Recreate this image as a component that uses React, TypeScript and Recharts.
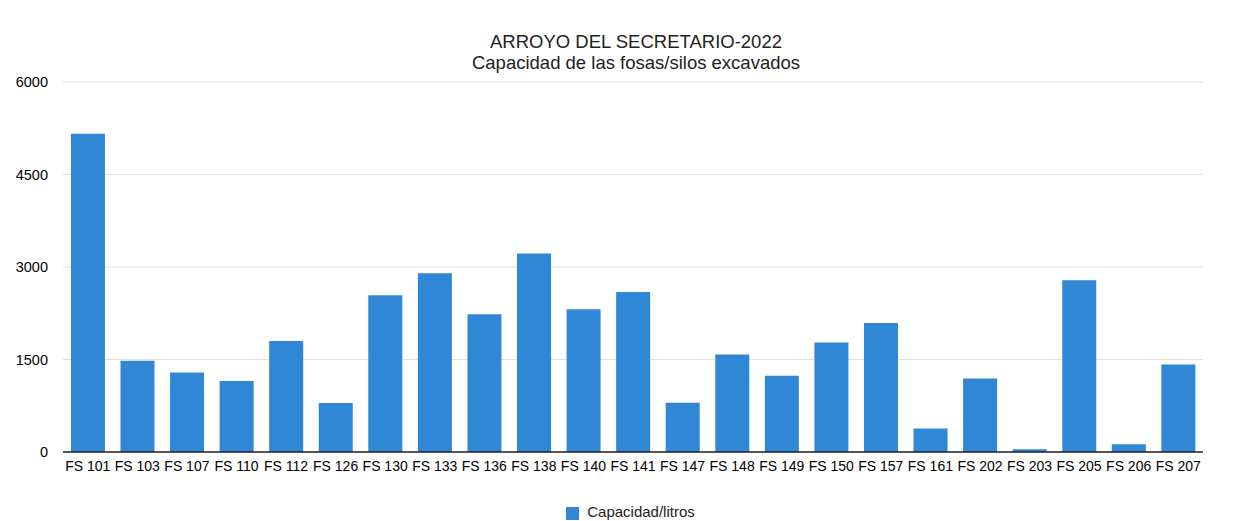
import { Bar, BarChart, CartesianGrid, Legend, XAxis, YAxis } from "recharts"

const fosas = [
  "FS 101", "FS 103", "FS 107", "FS 110", "FS 112", "FS 126", "FS 130", "FS 133",
  "FS 136", "FS 138", "FS 140", "FS 141", "FS 147", "FS 148", "FS 149", "FS 150",
  "FS 157", "FS 161", "FS 202", "FS 203", "FS 205", "FS 206", "FS 207",
]

const capacidad = [
  5160, 1480, 1290, 1150, 1800, 795, 2540, 2900,
  2235, 3220, 2315, 2595, 800, 1580, 1235, 1775,
  2090, 380, 1190, 45, 2785, 125, 1420,
]

const yTicks = [0, 1500, 3000, 4500, 6000]

const data = fosas.map((name, i) => ({ name, "Capacidad/litros": capacidad[i] }))

const font = "'Liberation Sans', Arial, Helvetica, sans-serif"

export default function App() {
  return (
    <div style={{ position: "absolute", left: 0, top: 0, width: 1233, height: 521, background: "#fff", fontFamily: font }}>
      <div style={{ position: "absolute", left: 0, top: 31, width: 1272, textAlign: "center", fontSize: 18.5, lineHeight: "21px", color: "#222" }}>
        ARROYO DEL SECRETARIO-2022
        <br />
        Capacidad de las fosas/silos excavados
      </div>
      <BarChart
        width={1233}
        height={521}
        data={data}
        margin={{ top: 82, right: 30, left: 0, bottom: 0 }}
        barCategoryGap="16%"
      >
        <CartesianGrid vertical={false} stroke="#e6ddd4" />
        <XAxis
          dataKey="name"
          interval={0}
          height={45}
          tickLine={false}
          axisLine={{ stroke: "#222", strokeWidth: 1.5 }}
          tick={{ fontSize: 14, fill: "#000", fontFamily: font }}
          tickMargin={3}
        />
        <YAxis
          width={63}
          domain={[0, 6000]}
          ticks={yTicks}
          tickLine={false}
          axisLine={false}
          tickSize={0}
          tickMargin={15}
          tick={{ fontSize: 14.5, fill: "#000", fontFamily: font }}
        />
        <Legend
          verticalAlign="bottom"
          height={24}
          iconType="square"
          iconSize={13}
          wrapperStyle={{ bottom: -6, left: 34, fontSize: 15, fontFamily: font }}
          formatter={(v) => <span style={{ color: "#222", paddingLeft: 4 }}>{v}</span>}
        />
        <Bar dataKey="Capacidad/litros" fill="#2f87d6" isAnimationActive={false} />
      </BarChart>
    </div>
  )
}
